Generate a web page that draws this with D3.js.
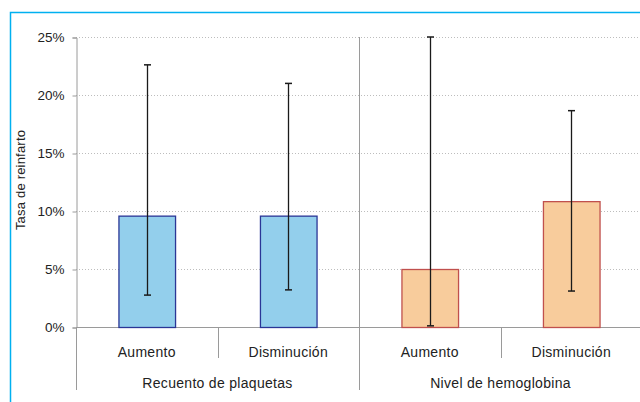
<!DOCTYPE html>
<html>
<head>
<meta charset="utf-8">
<script src="https://cdn.jsdelivr.net/npm/d3@7"></script>
<style>
  body { margin: 0; background: #fff; }
  svg { display: block; font-family: "Liberation Sans", Arial, sans-serif; }
</style>
</head>
<body>
<div id="chart"></div>
<script>
// data
const groups = ['Recuento de plaquetas', 'Nivel de hemoglobina'];
const subcats = ['Aumento', 'Disminución'];
const rates = [9.6, 9.6, 5.0, 10.85];
const lowerCI = [2.75, 3.2, 0.1, 3.1];
const upperCI = [22.6, 21.0, 25.0, 18.65];
const yTicks = [0, 5, 10, 15, 20, 25];

const width = 640, height = 402;
const margin = {top: 37, left: 76, bottom: 75};
const plotRight = 642;
const plotBottom = height - margin.bottom;

const fills = ['#93cfec', '#93cfec', '#f8cc9c', '#f8cc9c'];
const strokes = ['#2a3696', '#2a3696', '#c0504d', '#c0504d'];

const svg = d3.select('#chart').append('svg')
    .attr('width', width)
    .attr('height', height);

// outer frame
svg.append('rect')
    .attr('x', 10.5).attr('y', 12.5)
    .attr('width', 700).attr('height', 500)
    .attr('fill', 'none')
    .attr('stroke', '#00b0f0')
    .attr('stroke-width', 1.5);

const bars = rates.map((v, i) => ({
  i: i,
  value: v,
  lo: lowerCI[i],
  hi: upperCI[i],
  sub: subcats[i % 2],
  group: groups[Math.floor(i / 2)]
}));

const x = d3.scaleBand()
    .domain(d3.range(bars.length))
    .range([margin.left, plotRight])
    .paddingInner(0.6)
    .paddingOuter(0.3);

const step = x.step();

const y = d3.scaleLinear()
    .domain([0, 25])
    .range([plotBottom, margin.top]);

// gridlines
svg.append('g')
  .selectAll('line')
  .data(yTicks.filter(d => d > 0))
  .join('line')
    .attr('x1', margin.left).attr('x2', plotRight)
    .attr('y1', d => Math.round(y(d)) + 0.5)
    .attr('y2', d => Math.round(y(d)) + 0.5)
    .attr('stroke', '#bdbdbd')
    .attr('stroke-dasharray', '1,2');

// y axis
const yAxis = svg.append('g')
    .attr('transform', `translate(${margin.left + 0.5},0.5)`)
    .call(d3.axisLeft(y).tickValues(yTicks).tickFormat(d => d + '%').tickSize(4).tickPadding(8));
yAxis.select('.domain').attr('stroke', '#9a9a9a');
yAxis.selectAll('.tick line').attr('stroke', '#9a9a9a');
yAxis.selectAll('.tick text').attr('fill', '#222').style('font-size', '13.5px');

svg.append('text')
    .attr('transform', `translate(25,${(margin.top + plotBottom) / 2 - 2}) rotate(-90)`)
    .attr('text-anchor', 'middle')
    .attr('fill', '#222')
    .style('font-size', '13px')
    .style('letter-spacing', '0.2px')
    .text('Tasa de reinfarto');

// category axis
svg.append('line')
    .attr('x1', margin.left).attr('x2', plotRight)
    .attr('y1', plotBottom + 0.5).attr('y2', plotBottom + 0.5)
    .attr('stroke', '#9a9a9a');

// separators between sub-categories
svg.append('g')
  .selectAll('line')
  .data([1, 3])
  .join('line')
    .attr('x1', d => Math.round(margin.left + step * d) + 0.5)
    .attr('x2', d => Math.round(margin.left + step * d) + 0.5)
    .attr('y1', plotBottom).attr('y2', plotBottom + 31)
    .attr('stroke', '#9a9a9a');

// separators between groups (full height)
svg.append('g')
  .selectAll('line')
  .data([0, 2])
  .join('line')
    .attr('x1', d => Math.round(margin.left + step * d) + 0.5)
    .attr('x2', d => Math.round(margin.left + step * d) + 0.5)
    .attr('y1', d => d === 0 ? plotBottom : margin.top)
    .attr('y2', plotBottom + 63)
    .attr('stroke', '#9a9a9a');

svg.append('g')
  .selectAll('text')
  .data(bars)
  .join('text')
    .attr('x', d => x(d.i) + x.bandwidth() / 2)
    .attr('y', plotBottom + 30)
    .attr('text-anchor', 'middle')
    .attr('fill', '#222')
    .style('font-size', '14px')
    .style('letter-spacing', '0.3px')
    .text(d => d.sub);

svg.append('g')
  .selectAll('text')
  .data(groups)
  .join('text')
    .attr('x', (d, i) => margin.left + step * (2 * i + 1))
    .attr('y', plotBottom + 61)
    .attr('text-anchor', 'middle')
    .attr('fill', '#222')
    .style('font-size', '14px')
    .style('letter-spacing', '0.3px')
    .text(d => d);

// bars
svg.append('g')
  .selectAll('rect')
  .data(bars)
  .join('rect')
    .attr('x', d => x(d.i) + 0.5)
    .attr('y', d => y(d.value) + 0.5)
    .attr('width', x.bandwidth())
    .attr('height', d => y(0) - y(d.value))
    .attr('fill', d => fills[d.i])
    .attr('stroke', d => strokes[d.i])
    .attr('stroke-width', 1.3);

// error bars
const err = svg.append('g')
  .selectAll('g')
  .data(bars)
  .join('g')
    .attr('transform', d => `translate(${Math.round(x(d.i) + x.bandwidth() / 2) + 0.5},0)`);

err.append('line')
    .attr('y1', d => y(d.lo)).attr('y2', d => y(d.hi))
    .attr('stroke', '#1a1a1a').attr('stroke-width', 1.3);

err.selectAll('.cap')
  .data(d => [d.lo, d.hi])
  .join('line')
    .attr('class', 'cap')
    .attr('x1', -3.5).attr('x2', 3.5)
    .attr('y1', d => y(d)).attr('y2', d => y(d))
    .attr('stroke', '#1a1a1a').attr('stroke-width', 1.5);
</script>
</body>
</html>
